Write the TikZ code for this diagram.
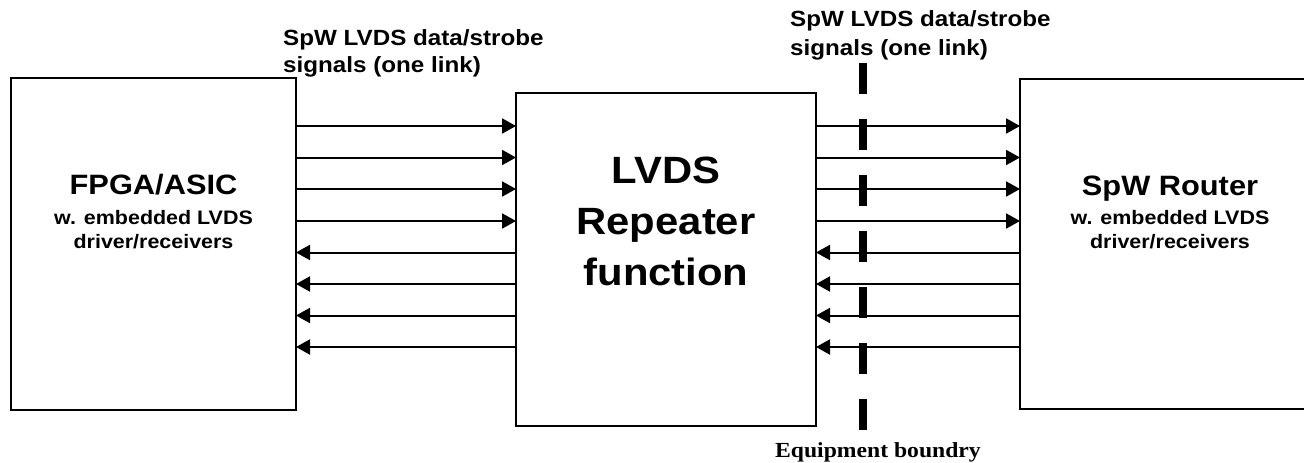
\documentclass[tikz,border=0pt]{standalone}
\usepackage{fontspec}
\setmainfont{Liberation Sans}[FakeStretch=1.1]
\newfontfamily\serifb{Liberation Serif}[FakeStretch=1.1]
\usetikzlibrary{arrows.meta}
\begin{document}
\begin{tikzpicture}[x=1pt,y=-1pt,
  box/.style={draw, line width=1.6pt, inner sep=0pt, outer sep=0pt},
  arr/.style={line width=2pt, -{Triangle[length=14pt,width=15pt]}},
  lbl/.style={inner sep=0pt, anchor=base west, font=\bfseries\fontsize{22pt}{26pt}\selectfont},
  ttl/.style={inner sep=0pt, anchor=base, font=\bfseries\fontsize{28pt}{32pt}\selectfont},
  sub/.style={inner sep=0pt, anchor=base, font=\bfseries\fontsize{19.5pt}{23pt}\selectfont},
  big/.style={inner sep=0pt, anchor=base, font=\bfseries\fontsize{38pt}{44pt}\selectfont},
  bnd/.style={line width=8pt, dash pattern=on 31pt off 25pt}]
\clip (0,0) rectangle (1304,463);
\fill[white] (0,0) rectangle (1304,463);

% boxes
\node[box, minimum width=285pt, minimum height=332pt, anchor=north west] (L) at (11,78) {};
\node[box, minimum width=300pt, minimum height=333pt, anchor=north west] (M) at (516,93) {};
\node[box, minimum width=300pt, minimum height=330pt, anchor=north west] (R) at (1020,79) {};

% box texts
\node[ttl] (l1) at (153.5,194) {FPGA/ASIC};
\node[sub] (l2) at (153.5,224) {w. embedded LVDS};
\node[sub] (l3) at (153.5,248) {driver/receivers};

\node[big] (m1) at (666,183) {LVDS};
\node[big] (m2) at (666,234) {Repeater};
\node[big] (m3) at (666,285) {function};

\node[ttl] (r1) at (1170,195) {SpW Router};
\node[sub] (r2) at (1170,224) {w. embedded LVDS};
\node[sub] (r3) at (1170,248) {driver/receivers};

% arrows
\foreach \y in {126,157.5,189,221}{
  \path (0,\y) coordinate (t);
  \draw[arr] (L.east |- t) -- (M.west |- t);
  \draw[arr] (M.east |- t) -- (R.west |- t);
}
\foreach \y in {252.5,284,315.5,347}{
  \path (0,\y) coordinate (t);
  \draw[arr] (M.west |- t) -- (L.east |- t);
  \draw[arr] (R.west |- t) -- (M.east |- t);
}

% equipment boundary
\coordinate (b1) at (863,63);
\coordinate (b2) at (863,430);
\draw[bnd] (b1) -- (b2);

% labels
\node[lbl] (a1) at (283,45) {SpW LVDS data/strobe};
\node[lbl] (a2) at (283,72) {signals (one link)};
\node[lbl] (c1) at (790,27) {SpW LVDS data/strobe};
\node[lbl] (c2) at (790,55) {signals (one link)};
\node[inner sep=0pt, anchor=base, font=\serifb\bfseries\fontsize{21.5pt}{25pt}\selectfont] (eb) at (878,457) {Equipment boundry};
\end{tikzpicture}
\end{document}
